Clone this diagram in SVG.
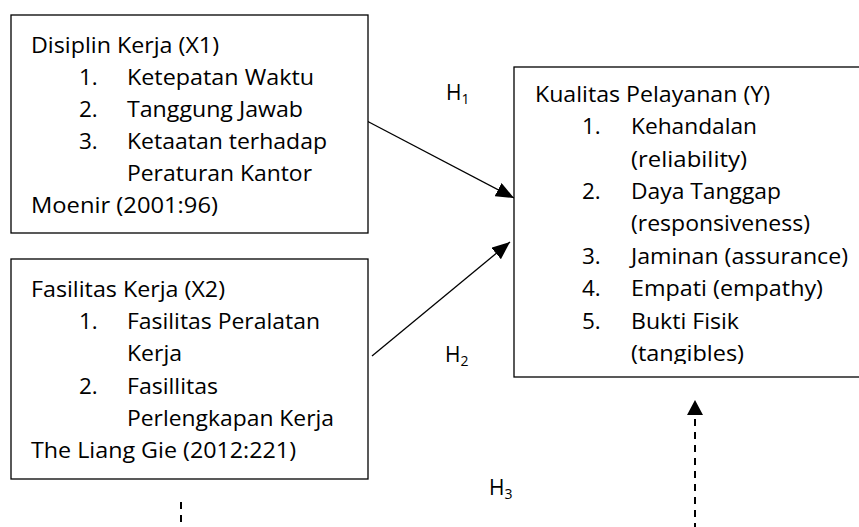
<svg xmlns="http://www.w3.org/2000/svg" width="859" height="527" viewBox="0 0 859 527">
<style>
.box{fill:#fff;stroke:#000;stroke-width:1.3}
.t{font-family:"Open Sans","Noto Sans",sans-serif;font-size:22.5px;fill:#000}
.h{font-family:"Open Sans","Noto Sans",sans-serif;font-size:21px;fill:#000}
.sub{font-size:14px}
.ln{stroke:#000;stroke-width:1.3;fill:none}
.dash{stroke:#000;stroke-width:2;fill:none;stroke-dasharray:7 6}
</style>
<defs>
<marker id="ah" markerUnits="userSpaceOnUse" markerWidth="19" markerHeight="15" refX="18" refY="7.5" orient="auto">
<path d="M0,0 L18,7.5 L0,15 z" fill="#000"/>
</marker>
<clipPath id="clipY"><rect x="514" y="67" width="360" height="297"/></clipPath>
</defs>
<rect width="859" height="527" fill="#fff"/>
<g id="connectors">
<line class="ln" x1="365" y1="120" x2="514" y2="198" marker-end="url(#ah)"/>
<line class="ln" x1="372" y1="356" x2="510" y2="242" marker-end="url(#ah)"/>
<line class="dash" x1="695" y1="419" x2="695" y2="527"/>
<polygon points="695,400 703,415 687,415" fill="#000"/>
<line class="dash" x1="181" y1="502" x2="181" y2="527"/>
<text class="h" x="446" y="100">H<tspan class="sub" dy="4">1</tspan></text>
<text class="h" x="445" y="362">H<tspan class="sub" dy="4">2</tspan></text>
<text class="h" x="489" y="495">H<tspan class="sub" dy="4">3</tspan></text>
</g>
<g id="node-x1">
<rect class="box" x="11" y="15" width="357" height="218"/>
<text class="t" x="31" y="52.5" textLength="188" lengthAdjust="spacingAndGlyphs">Disiplin Kerja (X1)</text>
<text class="t" x="79" y="84.5">1.</text>
<text class="t" x="127" y="84.5" textLength="187" lengthAdjust="spacingAndGlyphs">Ketepatan Waktu</text>
<text class="t" x="79" y="116.7">2.</text>
<text class="t" x="127" y="116.7" textLength="176" lengthAdjust="spacingAndGlyphs">Tanggung Jawab</text>
<text class="t" x="79" y="149">3.</text>
<text class="t" x="127" y="149" textLength="200" lengthAdjust="spacingAndGlyphs">Ketaatan terhadap</text>
<text class="t" x="127" y="181" textLength="185" lengthAdjust="spacingAndGlyphs">Peraturan Kantor</text>
<text class="t" x="31" y="213" textLength="187" lengthAdjust="spacingAndGlyphs">Moenir (2001:96)</text>
</g>
<g id="node-x2">
<rect class="box" x="11" y="259" width="357" height="220"/>
<text class="t" x="31" y="297" textLength="194" lengthAdjust="spacingAndGlyphs">Fasilitas Kerja (X2)</text>
<text class="t" x="79" y="329.2">1.</text>
<text class="t" x="127" y="329.2" textLength="193" lengthAdjust="spacingAndGlyphs">Fasilitas Peralatan</text>
<text class="t" x="127" y="361.4" textLength="55" lengthAdjust="spacingAndGlyphs">Kerja</text>
<text class="t" x="79" y="393.6">2.</text>
<text class="t" x="127" y="393.6" textLength="91" lengthAdjust="spacingAndGlyphs">Fasillitas</text>
<text class="t" x="127" y="425.8" textLength="207" lengthAdjust="spacingAndGlyphs">Perlengkapan Kerja</text>
<text class="t" x="31" y="458" textLength="265" lengthAdjust="spacingAndGlyphs">The Liang Gie (2012:221)</text>
</g>
<g id="node-y">
<rect class="box" x="514" y="67" width="360" height="310"/>
<g clip-path="url(#clipY)">
<text class="t" x="535" y="101.8" textLength="235" lengthAdjust="spacingAndGlyphs">Kualitas Pelayanan (Y)</text>
<text class="t" x="582" y="134.2">1.</text>
<text class="t" x="631" y="134.2" textLength="126" lengthAdjust="spacingAndGlyphs">Kehandalan</text>
<text class="t" x="631" y="166.6" textLength="116" lengthAdjust="spacingAndGlyphs">(reliability)</text>
<text class="t" x="582" y="199">2.</text>
<text class="t" x="631" y="199" textLength="150" lengthAdjust="spacingAndGlyphs">Daya Tanggap</text>
<text class="t" x="631" y="231.4" textLength="179" lengthAdjust="spacingAndGlyphs">(responsiveness)</text>
<text class="t" x="582" y="263.8">3.</text>
<text class="t" x="631" y="263.8" textLength="217" lengthAdjust="spacingAndGlyphs">Jaminan (assurance)</text>
<text class="t" x="582" y="296.2">4.</text>
<text class="t" x="631" y="296.2" textLength="192" lengthAdjust="spacingAndGlyphs">Empati (empathy)</text>
<text class="t" x="582" y="328.6">5.</text>
<text class="t" x="631" y="328.6" textLength="108" lengthAdjust="spacingAndGlyphs">Bukti Fisik</text>
<text class="t" x="631" y="361" textLength="113" lengthAdjust="spacingAndGlyphs">(tangibles)</text>
</g>
</g>
</svg>
